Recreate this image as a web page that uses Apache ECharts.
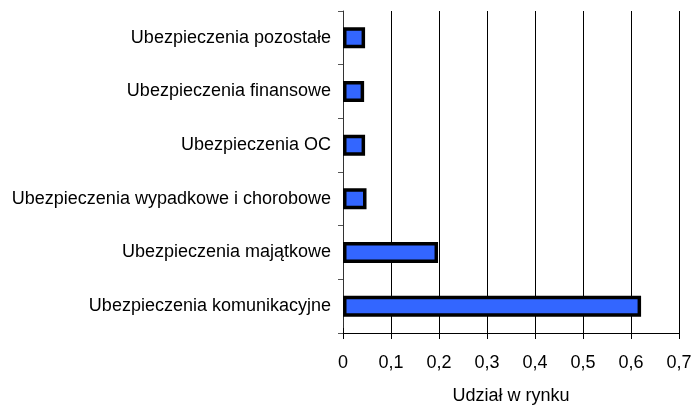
<!DOCTYPE html>
<html>
<head>
<meta charset="utf-8">
<script src="https://cdn.jsdelivr.net/npm/echarts@6/dist/echarts.min.js"></script>
<style>
  html, body { margin: 0; padding: 0; background: #fff; }
  #chart { width: 695px; height: 410px; }
</style>
</head>
<body>
<div id="chart"></div>
<script>
// kategorie od góry do dołu
const categories = [
  "Ubezpieczenia pozostałe",
  "Ubezpieczenia finansowe",
  "Ubezpieczenia OC",
  "Ubezpieczenia wypadkowe i chorobowe",
  "Ubezpieczenia majątkowe",
  "Ubezpieczenia komunikacyjne"
];
const shares = [0.046, 0.044, 0.046, 0.049, 0.198, 0.621];
const xTicks = { min: 0, max: 0.7, interval: 0.1 };
const axisName = "Udział w rynku";

let myChart = echarts.init(document.getElementById("chart"));
const font = "Liberation Sans, Arial, sans-serif";

myChart.setOption({
  animation: false,
  grid: { left: 343, right: 16, top: 11, bottom: 75 },
  xAxis: [
    {
      type: "value",
      min: xTicks.min,
      max: xTicks.max,
      interval: xTicks.interval,
      name: axisName,
      nameLocation: "middle",
      nameGap: 54,
      nameTextStyle: { color: "#000", fontSize: 18, fontFamily: font },
      axisLine: { show: true, lineStyle: { color: "#000", width: 1 } },
      axisTick: { show: true, length: 6, lineStyle: { color: "#000" } },
      axisLabel: {
        color: "#000",
        fontSize: 18,
        fontFamily: font,
        margin: 21,
        formatter: v => String(Math.round(v * 10) / 10).replace(".", ",")
      },
      splitLine: { show: true, lineStyle: { color: "#000", width: 1 } }
    },
    {
      // krótkie kreski skierowane do środka (tick przecina oś)
      type: "value",
      position: "bottom",
      min: xTicks.min,
      max: xTicks.max,
      interval: xTicks.interval,
      axisLine: { show: false },
      axisTick: { show: true, inside: true, length: 5, lineStyle: { color: "#000" } },
      axisLabel: { show: false },
      splitLine: { show: false }
    }
  ],
  yAxis: {
    type: "category",
    inverse: true,
    data: categories,
    axisLine: { show: true, lineStyle: { color: "#333", width: 1 } },
    axisTick: { show: true, length: 5, lineStyle: { color: "#555" } },
    axisLabel: { color: "#000", fontSize: 18, fontFamily: font, margin: 12 }
  },
  series: [
    {
      type: "bar",
      data: shares,
      barWidth: 21,
      itemStyle: { color: "#3366FF", borderColor: "#000", borderWidth: 3.5 }
    }
  ]
});
</script>
</body>
</html>
